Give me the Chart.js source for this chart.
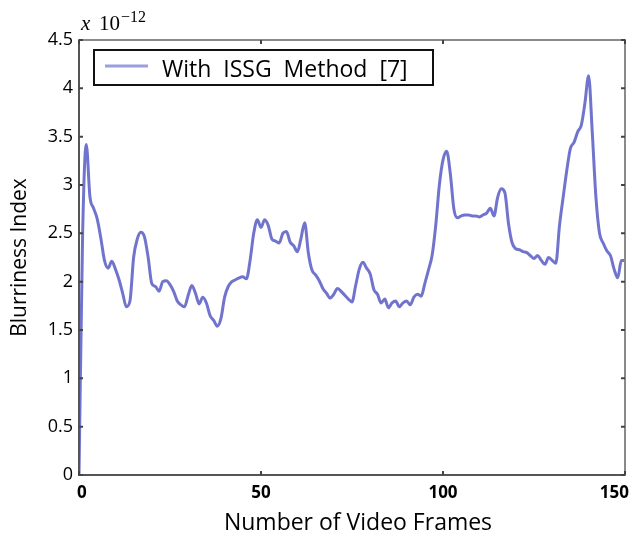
<!DOCTYPE html>
<html lang="en">
<head>
  <meta charset="UTF-8" />
  <title>Blurriness Index</title>
  <script src="https://cdn.jsdelivr.net/npm/chart.js"></script>
  <style>
    body { margin: 0; background: #ffffff; }
    #wrap { width: 632px; height: 540px; }
  </style>
</head>
<body>
  <div id="wrap"><canvas id="blurChart" width="632" height="540"></canvas></div>

  <script>
    // frame numbers and blurriness index (x 10^-12)
    const frames = [
      0, 1, 2, 3, 4, 5, 6, 7, 8, 9, 10, 11, 12, 13, 14, 15, 16, 17, 18, 19,
      20, 21, 22, 23, 24, 25, 26, 27, 28, 29, 30, 31, 32, 33, 34, 35, 36, 37, 38, 39,
      40, 41, 42, 43, 44, 45, 46, 47, 48, 49, 50, 51, 52, 53, 54, 55, 56, 57, 58, 59,
      60, 61, 62, 63, 64, 65, 66, 67, 68, 69, 70, 71, 72, 73, 74, 75, 76, 77, 78, 79,
      80, 81, 82, 83, 84, 85, 86, 87, 88, 89, 90, 91, 92, 93, 94, 95, 96, 97, 98, 99,
      100, 101, 102, 103, 104, 105, 106, 107, 108, 109, 110, 111, 112, 113, 114, 115, 116, 117, 118, 119,
      120, 121, 122, 123, 124, 125, 126, 127, 128, 129, 130, 131, 132, 133, 134, 135, 136, 137, 138, 139,
      140, 141, 142, 143, 144, 145, 146, 147, 148, 149, 150
    ];
    const blurValues = [
      0, 2.5, 3.42, 2.88, 2.76, 2.65, 2.45, 2.22, 2.14, 2.21, 2.13, 2.02, 1.88, 1.74, 1.8, 2.25, 2.44, 2.51, 2.46, 2.25,
      1.98, 1.95, 1.9, 2.0, 2.01, 1.97, 1.9, 1.8, 1.76, 1.74, 1.86, 1.96, 1.88, 1.77, 1.84, 1.78, 1.65, 1.6, 1.54, 1.62,
      1.84, 1.95, 2.0, 2.02, 2.04, 2.05, 2.03, 2.22, 2.5, 2.64, 2.56, 2.64, 2.58, 2.44, 2.42, 2.4, 2.5, 2.52, 2.41, 2.37,
      2.31, 2.45, 2.61, 2.3, 2.12, 2.07, 2.01, 1.93, 1.88, 1.83, 1.87, 1.93, 1.9, 1.86, 1.82, 1.79, 1.96, 2.13, 2.2, 2.14,
      2.08, 1.92, 1.87, 1.78, 1.82, 1.73, 1.78, 1.8, 1.74, 1.78, 1.8, 1.76, 1.84, 1.87, 1.85, 1.98, 2.12, 2.27, 2.58, 3.0,
      3.26, 3.35, 3.12, 2.75, 2.66, 2.68, 2.69, 2.69, 2.68, 2.68, 2.67, 2.69, 2.71, 2.76, 2.68, 2.87, 2.96, 2.92, 2.6, 2.4,
      2.34, 2.33, 2.31, 2.3, 2.27, 2.24, 2.27, 2.22, 2.18, 2.25, 2.22, 2.19, 2.58, 2.87, 3.15, 3.38, 3.44, 3.55, 3.62, 3.85,
      4.13, 3.55, 2.88, 2.5, 2.4, 2.32, 2.27, 2.13, 2.04, 2.22, 2.22
    ];
    const xTicks = [0, 50, 100, 150];
    const yTicks = [0, 0.5, 1, 1.5, 2, 2.5, 3, 3.5, 4, 4.5];
    const seriesLabel = 'With  ISSG  Method  [7]';
    const xTitle = 'Number of Video Frames';
    const yTitle = 'Blurriness Index';
    const expBase = '10';
    const expPower = '\u221212';

    const SANS = '"Open Sans", "Noto Sans", sans-serif';
    const SERIF = '"Liberation Serif", "DejaVu Serif", serif';

    // frame, inner ticks, x labels, legend and the exponent note
    const decorations = {
      id: 'decorations',
      afterDraw(chart) {
        const ctx = chart.ctx;
        const area = chart.chartArea;
        const xs = chart.scales.x;
        const ys = chart.scales.y;
        ctx.save();

        // box
        ctx.lineWidth = 2;
        ctx.strokeStyle = '#8a8a8a';
        ctx.strokeRect(area.left, area.top, area.right - area.left, area.bottom - area.top);
        ctx.strokeStyle = '#555';
        ctx.beginPath();
        ctx.moveTo(area.left, area.top);
        ctx.lineTo(area.left, area.bottom);
        ctx.lineTo(area.right, area.bottom);
        ctx.stroke();

        // inward ticks
        ctx.strokeStyle = '#444';
        ctx.lineWidth = 2;
        ctx.beginPath();
        yTicks.forEach(v => {
          const y = ys.getPixelForValue(v);
          ctx.moveTo(area.left, y); ctx.lineTo(area.left + 4, y);
          ctx.moveTo(area.right, y); ctx.lineTo(area.right - 4, y);
        });
        xTicks.forEach(v => {
          const x = xs.getPixelForValue(v);
          ctx.moveTo(x, area.bottom); ctx.lineTo(x, area.bottom - 4);
          ctx.moveTo(x, area.top); ctx.lineTo(x, area.top + 4);
        });
        ctx.stroke();

        // x tick labels (kept inside the canvas)
        ctx.fillStyle = '#000';
        ctx.font = 'bold 17px ' + SANS;
        ctx.textBaseline = 'alphabetic';
        ctx.textAlign = 'center';
        xTicks.forEach(v => {
          const txt = String(v);
          const w = ctx.measureText(txt).width;
          let x = xs.getPixelForValue(v);
          if (x - w / 2 < area.left - 2) x = area.left - 2 + w / 2;
          if (x + w / 2 > chart.width - 3) x = chart.width - 3 - w / 2;
          ctx.fillText(txt, x, 498);
        });

        // x title
        ctx.font = '23px ' + SANS;
        ctx.fillText(xTitle, 358, 530);

        // legend
        ctx.lineWidth = 2;
        ctx.strokeStyle = '#111';
        ctx.fillStyle = '#fff';
        ctx.fillRect(94, 50, 339, 35);
        ctx.strokeRect(94, 50, 339, 35);
        ctx.strokeStyle = '#9c9ee0';
        ctx.lineWidth = 3;
        ctx.beginPath();
        ctx.moveTo(105, 66);
        ctx.lineTo(148, 66);
        ctx.stroke();
        ctx.fillStyle = '#000';
        ctx.textAlign = 'left';
        ctx.font = '23px ' + SANS;
        ctx.fillText(seriesLabel, 162, 77);

        // exponent note
        ctx.font = 'italic 21px ' + SERIF;
        ctx.fillText('x', 81, 30);
        ctx.font = '21px ' + SERIF;
        ctx.fillText(expBase, 99, 30);
        ctx.font = '16px ' + SERIF;
        ctx.fillText(expPower, 121, 22);

        ctx.restore();
      }
    };

    const ctx = document.getElementById('blurChart').getContext('2d');
    const blurChart = new Chart(ctx, {
      type: 'line',
      data: {
        datasets: [{
          label: seriesLabel,
          data: frames.map((f, i) => ({ x: f, y: blurValues[i] })),
          borderColor: 'rgba(88, 92, 196, 0.85)',
          borderWidth: 3,
          pointRadius: 0,
          fill: false,
          cubicInterpolationMode: 'monotone'
        }]
      },
      options: {
        responsive: false,
        animation: false,
        devicePixelRatio: 1,
        layout: { padding: { top: 40, right: 7, bottom: 0, left: 0 } },
        plugins: {
          legend: { display: false },
          tooltip: { enabled: false }
        },
        scales: {
          x: {
            type: 'linear',
            min: 0,
            max: 150,
            ticks: { display: false, stepSize: 50 },
            grid: { display: false },
            border: { display: false },
            afterFit(scale) {
              scale.height = 65;
              scale.paddingLeft = 0;
              scale.paddingRight = 0;
            }
          },
          y: {
            min: 0,
            max: 4.5,
            ticks: {
              stepSize: 0.5,
              color: '#000',
              padding: 6,
              font: { family: SANS, size: 18 },
              callback: v => String(v)
            },
            grid: { display: false, drawTicks: false },
            border: { display: false },
            title: {
              display: true,
              text: yTitle,
              color: '#000',
              font: { family: SANS, size: 21 },
              padding: { top: 7, bottom: 0 }
            },
            afterFit(scale) {
              scale.width = 79;
              scale.paddingTop = 0;
              scale.paddingBottom = 0;
            }
          }
        }
      },
      plugins: [decorations]
    });
  </script>
</body>
</html>
